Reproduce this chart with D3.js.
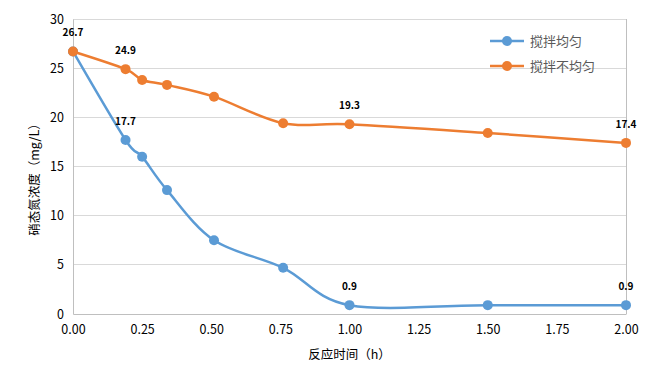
<!DOCTYPE html>
<html lang="zh">
<head>
  <meta charset="UTF-8">
  <title>nitrate</title>
  <script src="https://cdn.jsdelivr.net/npm/d3@7/dist/d3.min.js"></script>
</head>
<body>
<style>
  * { padding: 0; margin: 0; }
  body { background: #fff; }
  #app { width: 662px; height: 378px; }
  text { font-family: "Microsoft YaHei", "Noto Sans CJK SC", sans-serif; }
</style>

<div id="app"></div>

<script>
  // 时间 (h)
  const timeStirred = [0, 0.19, 0.25, 0.34, 0.51, 0.76, 1.0, 1.5, 2.0];
  const valStirred = [26.7, 17.7, 16.0, 12.6, 7.5, 4.7, 0.9, 0.9, 0.9];
  const timeUneven = [0, 0.19, 0.25, 0.34, 0.51, 0.76, 1.0, 1.5, 2.0];
  const valUneven = [26.7, 24.9, 23.8, 23.3, 22.1, 19.4, 19.3, 18.4, 17.4];

  const seriesNames = ["搅拌均匀", "搅拌不均匀"];
  const colors = ["#5b9bd5", "#ed7d31"];

  // 显示数据标签的点 (index)
  const labelStirred = [1, 6, 8];
  const labelUneven = [0, 1, 6, 8];

  const xTicks = [0, 0.25, 0.5, 0.75, 1.0, 1.25, 1.5, 1.75, 2.0];
  const yTicks = [0, 5, 10, 15, 20, 25, 30];

  const $width = 662, $height = 378;
  const $left = 73, $right = 626, $top = 19, $bottom = 314;

  const svg = d3.select("#app").append("svg").attr("width", $width).attr("height", $height);

  const scaleX = d3.scaleLinear().domain([0, 2]).range([$left, $right]);
  const scaleY = d3.scaleLinear().domain([0, 30]).range([$bottom, $top]);

  // 网格线
  svg.append("g").selectAll("line").data(yTicks.slice(1)).enter().append("line")
    .attr("x1", $left).attr("x2", $right)
    .attr("y1", d => scaleY(d)).attr("y2", d => scaleY(d))
    .attr("stroke", "#d9d9d9").attr("stroke-width", 1).attr("shape-rendering", "crispEdges");

  // 右侧边框
  svg.append("line").attr("x1", $right + 0.5).attr("x2", $right + 0.5).attr("y1", $top).attr("y2", $bottom)
    .attr("stroke", "#bfbfbf");

  const axisX = d3.axisBottom(scaleX).tickValues(xTicks).tickFormat(d3.format(".2f")).tickSize(0).tickPadding(11);
  const axisY = d3.axisLeft(scaleY).tickValues(yTicks).tickSize(0).tickPadding(9);

  const gx = svg.append("g").attr("transform", "translate(0," + $bottom + ")").call(axisX);
  const gy = svg.append("g").attr("transform", "translate(" + $left + ",0)").call(axisY);
  [gx, gy].forEach(g => {
    g.select(".domain").attr("stroke", "#bfbfbf").attr("stroke-width", 1);
    g.selectAll("text").attr("fill", "#000").attr("font-size", 12.5)
      .style("font-family", "'Microsoft YaHei', 'Noto Sans CJK SC', sans-serif");
  });

  // 轴标题
  svg.append("text").text("反应时间（h）").attr("x", ($left + $right) / 2).attr("y", 359)
    .attr("text-anchor", "middle").attr("font-size", 12.5).attr("fill", "#000");
  svg.append("text").text("硝态氮浓度（mg/L）")
    .attr("transform", "translate(39," + (($top + $bottom) / 2 + 10) + ") rotate(-90)")
    .attr("text-anchor", "middle").attr("font-size", 12.5).attr("fill", "#000");

  const line = d3.line().x(d => scaleX(d[0])).y(d => scaleY(d[1])).curve(d3.curveCardinal.tension(0));

  const series = [
    { x: timeStirred, y: valStirred, labels: labelStirred },
    { x: timeUneven, y: valUneven, labels: labelUneven }
  ];

  series.forEach((s, i) => {
    const pts = s.x.map((t, j) => [t, s.y[j]]);
    svg.append("path").datum(pts).attr("d", line).attr("fill", "none")
      .attr("stroke", colors[i]).attr("stroke-width", 2.5);
    svg.append("g").selectAll("circle").data(pts).enter().append("circle")
      .attr("cx", d => scaleX(d[0])).attr("cy", d => scaleY(d[1])).attr("r", 5)
      .attr("fill", colors[i]);
    svg.append("g").selectAll("text").data(s.labels).enter().append("text")
      .text(j => s.y[j].toFixed(1))
      .attr("x", j => scaleX(s.x[j])).attr("y", j => scaleY(s.y[j]) - 15)
      .attr("text-anchor", "middle").attr("font-size", 10).attr("font-weight", "bold").attr("fill", "#000");
  });

  // 图例
  const legend = svg.append("g").attr("transform", "translate(490,41)");
  seriesNames.forEach((name, i) => {
    const g = legend.append("g").attr("transform", "translate(0," + i * 25 + ")");
    g.append("line").attr("x1", 0).attr("x2", 34).attr("stroke", colors[i]).attr("stroke-width", 2.5);
    g.append("circle").attr("cx", 17).attr("r", 5).attr("fill", colors[i]);
    g.append("text").text(name).attr("x", 40).attr("y", 5).attr("font-size", 13).attr("fill", "#595959");
  });
</script>
</body>
</html>
